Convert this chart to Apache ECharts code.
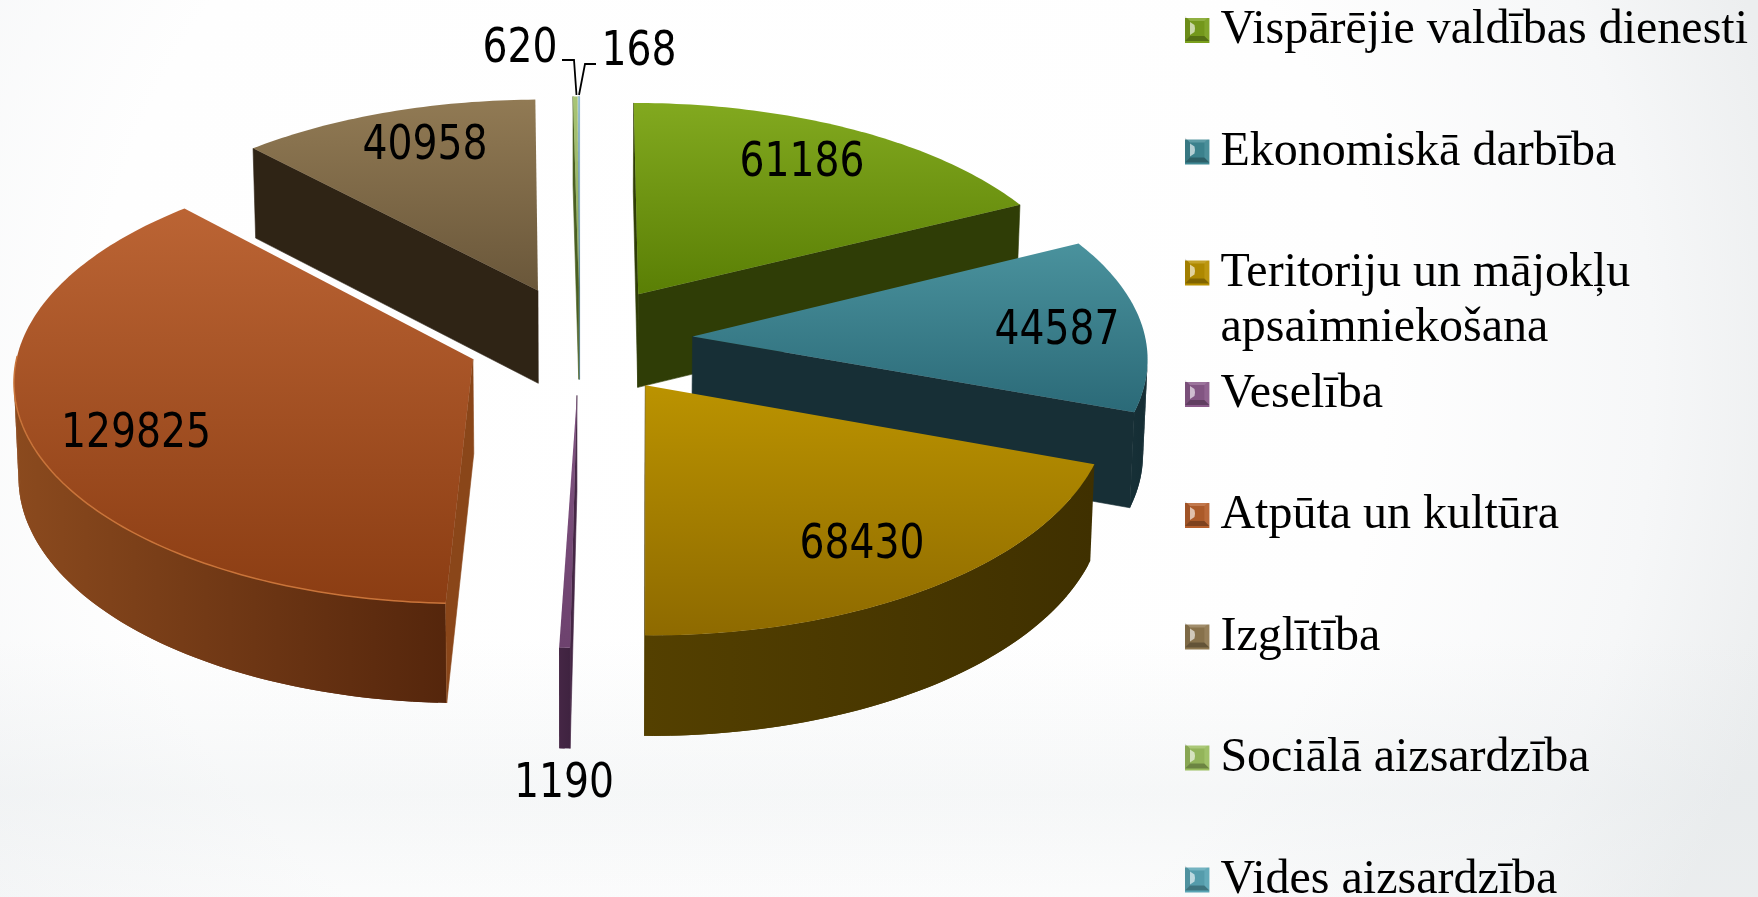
<!DOCTYPE html>
<html><head><meta charset="utf-8">
<style>html,body{margin:0;padding:0;background:#fff}#c{width:1758px;height:897px}</style>
<script src="https://cdn.jsdelivr.net/npm/echarts@6/dist/echarts.min.js"></script>
</head><body><div id="c"></div>
<script>
// ---- data ----
const categories = ['Vispārējie valdības dienesti','Ekonomiskā darbība','Teritoriju un mājokļu apsaimniekošana','Veselība','Atpūta un kultūra','Izglītība','Sociālā aizsardzība','Vides aizsardzība'];
const values = [61186,44587,68430,1190,129825,40958,620,168];
// ---- styles ----
const topFrom  = ['#82a91f','#4a929d','#bb9300','#815482','#bb6434','#917a54','#a8c574','#a8d2e2'];
const topTo    = ['#5a7f05','#2b6a78','#8e6a00','#6d426e','#8b3d13','#6a573a','#8aa85a','#8fbccc'];
const wallFrom = ['#2f3d06','#162f36','#544000','#452645','#8b4a1e','#332716','#4a5f22','#3e6672'];
const wallTo   = ['#2d3b04','#142c33','#3f3000','#3f2340','#55260c','#2b2114','#4a5f22','#3e6672'];
const sideCol  = ['#2f3d06','#172f36','#4f3c00','#452645','#8a4619','#2f2415','#4a5f22','#5d8a98'];
const swatch   = ['#7aa01d','#3f8894','#b89000','#8a5a8a','#b55f2c','#8f7850','#9bbe5f','#5aa5b5'];
const rimCol   = [null,null,null,null,'#c9743a',null,null,null];
const labelPos = [[802,164],[1057,332],[862,546],[564,785],[136,435],[425,147],[520,50],[639,53]];
const legendY  = [28.5,150,271,392.5,513.5,635,756,878];
const FONT_LABEL = '48px "DejaVu Sans Condensed","DejaVu Sans"';
const FONT_LEGEND = 48;
// ---- projection of the exploded pie ----
const CX=579.7, CY=339.7, KX=453, KY=217.5, P=0.094, PX=0.085, EXPLODE=0.25, DEPTH=94, SX=0.992, SY=1.022;
const total = values.reduce((a,b)=>a+b,0);
const toRad = v => v/total*Math.PI*2;
const starts = []; values.reduce((a,v,i)=>(starts[i]=a,a+toRad(v)),0);

function proj(X,Z){return [CX+KX*X/(1-PX*Z),CY+KY*Z/(1-P*Z)];}
function low(p){return [CX+(p[0]-CX)*SX, CY+(p[1]-CY)*SY+DEPTH];}
const grad=(x2,y2,a,b)=>new echarts.graphic.LinearGradient(0,0,x2,y2,[{offset:0,color:a},{offset:1,color:b}]);

function makeRender(i){
  return function(params,api){
    const v=api.value(0), a0=starts[i], a1=a0+toRad(v), mid=(a0+a1)/2;
    const ox=Math.sin(mid)*EXPLODE, oz=-Math.cos(mid)*EXPLODE, camZ=1/P;
    const apex=proj(ox,oz);
    const pt=t=>proj(ox+Math.sin(t),oz-Math.cos(t));
    const n=Math.max(2,Math.ceil((a1-a0)/(Math.PI/180)));
    const ang=k=>a0+(a1-a0)*k/n;
    const arc=[];for(let k=0;k<=n;k++)arc.push(pt(ang(k)));
    const kids=[];
    const poly=(pts,fill,z2,stroke)=>kids.push({type:'polygon',z2,shape:{points:pts},style:{fill,stroke:stroke||null,lineWidth:stroke?0.6:0}});
    // outer wall: overlapping quads, only where it faces the viewer
    const faces=t=>Math.sin(t)*(-ox-Math.sin(t))+(-Math.cos(t))*(camZ-oz+Math.cos(t))>0;
    const vis=[];for(let k=0;k<n;k++)if(faces(ang(k+0.5)))vis.push(k);
    if(vis.length){
      const xs=vis.map(k=>arc[k][0]).concat(vis.map(k=>arc[k+1][0]));
      const wg=new echarts.graphic.LinearGradient(Math.min(...xs),0,Math.max(...xs),0,[{offset:0,color:wallFrom[i]},{offset:1,color:wallTo[i]}],true);
      const last=vis[vis.length-1]+1;
      vis.forEach(k=>{const e=Math.min(k+2,last);poly([arc[k],arc[e],low(arc[e]),low(arc[k])],wg,1);});
    }
    // radial walls, only the ones facing the viewer
    const dx=-ox, dz=camZ-oz;
    if(-Math.cos(a0)*dx-Math.sin(a0)*dz>0)poly([apex,arc[0],low(arc[0]),low(apex)],sideCol[i],2,sideCol[i]);
    if(Math.cos(a1)*dx+Math.sin(a1)*dz>0)poly([apex,arc[n],low(arc[n]),low(apex)],sideCol[i],2,sideCol[i]);
    // top
    poly([apex].concat(arc),grad(0,1,topFrom[i],topTo[i]),3);
    if(rimCol[i]){
      const front=[];for(let k=0;k<=n;k++){if(Math.cos(ang(k))<0.02)front.push(arc[k]);}
      kids.push({type:'polyline',z2:4,shape:{points:front},style:{fill:null,stroke:rimCol[i],lineWidth:1.5}});
    }
    kids.push({type:'text',z2:6,x:labelPos[i][0],y:labelPos[i][1],scaleX:0.91,
      style:{text:String(v),font:FONT_LABEL,fill:'#000',align:'center',verticalAlign:'middle'}});
    if(i===6)kids.push({type:'polyline',z2:5,shape:{points:[[562,60],[574,60],[576.5,95]]},style:{fill:null,stroke:'#000',lineWidth:1.8}});
    if(i===7)kids.push({type:'polyline',z2:5,shape:{points:[[596,64],[585,64],[579,95]]},style:{fill:null,stroke:'#000',lineWidth:1.8}});
    return {type:'group',children:kids};
  };
}
const depthOrder=values.map((v,i)=>{const m=starts[i]+toRad(v)/2;return [i,-Math.cos(m)];}).sort((a,b)=>a[1]-b[1]).map(d=>d[0]);

const series=categories.map((name,i)=>({
  type:'custom',name,coordinateSystem:'none',silent:true,
  z:3+depthOrder.indexOf(i),
  itemStyle:{color:swatch[i]},
  data:[[values[i]]],
  renderItem:makeRender(i)
}));

const legend=categories.map((name,i)=>({
  data:[name],left:1185,top:legendY[i]-25,orient:'vertical',padding:0,itemWidth:24.4,itemHeight:25,itemGap:0,
  icon:'rect',selectedMode:false,z:4,
  formatter:n=>n.split(' apsaimnie')[0],
  textStyle:{fontFamily:'"Liberation Serif"',fontSize:FONT_LEGEND,color:'#000',lineHeight:54,padding:[0,0,0,6]}
}));

// bevel overlay on legend swatches and the wrapped second line of the legend entry
const graphicEls=[];
legendY.forEach((cy,i)=>{
  const x=1185,y=cy-12.5,w=24.4,h=25,b=5;
  const tl=[x,y],tr=[x+w,y],br=[x+w,y+h],bl=[x,y+h],itl=[x+b,y+b],itr=[x+w-b,y+b],ibr=[x+w-b,y+h-b],ibl=[x+b,y+h-b];
  const add=(pts,fill)=>graphicEls.push({type:'polygon',z:10,silent:true,shape:{points:pts},style:{fill}});
  add([tl,tr,itr,itl],'rgba(255,255,255,0.16)');
  add([bl,br,ibr,ibl],'rgba(0,0,0,0.30)');
  add([tl,bl,ibl,itl],'rgba(0,0,0,0.12)');
  add([tr,br,ibr,itr],'rgba(255,255,255,0.06)');
  add([itl,itr,ibr,ibl],'rgba(0,0,0,0.05)');
  add([[x+5,y+6],[x+9.5,y+9],[x+10,y+12.5],[x+9.5,y+16],[x+5,y+19]],'rgba(255,255,255,0.62)');
});
graphicEls.push({type:'text',z:10,silent:true,x:1220.5,y:328,style:{text:'apsaimniekošana',fontFamily:'"Liberation Serif"',fontSize:FONT_LEGEND,fill:'#000',verticalAlign:'middle'}});
// soft horizontal band at the bottom of the backdrop
graphicEls.push({type:'rect',z:0,silent:true,shape:{x:0,y:640,width:1758,height:257},style:{fill:new echarts.graphic.LinearGradient(0,0,0,1,[{offset:0,color:'rgba(225,230,232,0)'},{offset:0.6,color:'rgba(225,230,232,0.3)'},{offset:1,color:'rgba(225,230,232,0.12)'}])}});

const chart=echarts.init(document.getElementById('c'),null,{renderer:'canvas'});
chart.setOption({
  animation:false,
  backgroundColor:new echarts.graphic.RadialGradient(0.42,0.42,1.2,[{offset:0,color:'#ffffff'},{offset:0.6,color:'#fefefe'},{offset:0.85,color:'#f6f7f8'},{offset:1,color:'#eceeef'}]),
  legend,series,graphic:{elements:graphicEls}
});
</script></body></html>
